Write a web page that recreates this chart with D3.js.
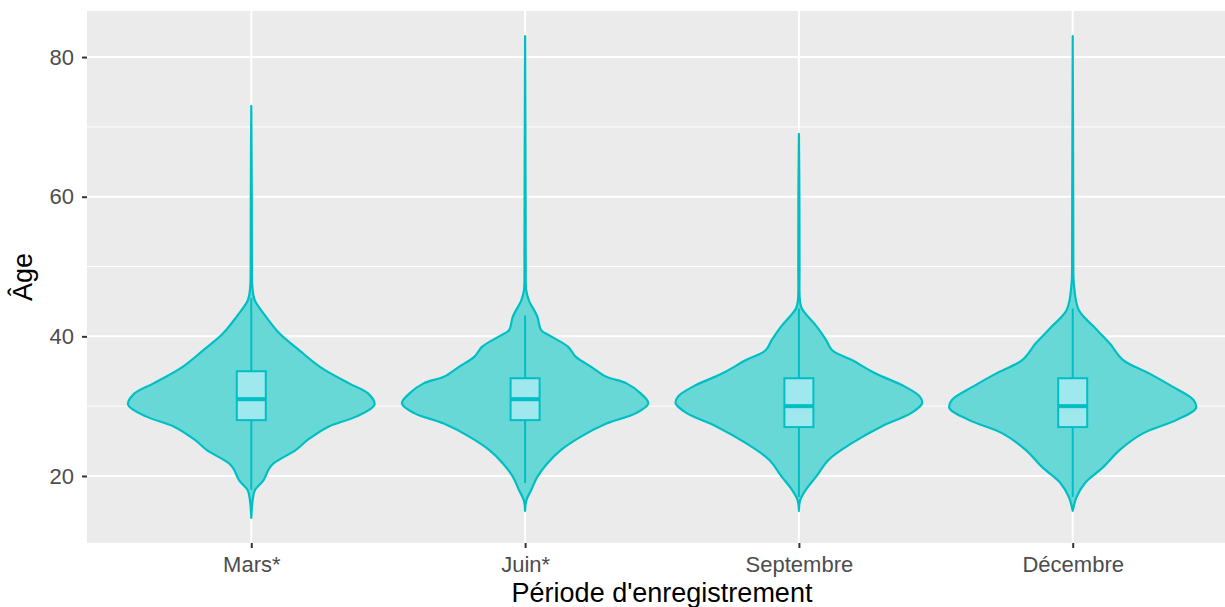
<!DOCTYPE html>
<html><head><meta charset="utf-8">
<script src="https://cdn.jsdelivr.net/npm/d3@7"></script>
<style>
html,body{margin:0;padding:0;background:#fff;}
svg{display:block;font-family:"Liberation Sans",Arial,Helvetica,sans-serif;}
</style></head>
<body>
<svg id="chart" width="1225" height="607"></svg>
<script>
// ---- data ----
const categories = ["Mars*", "Juin*", "Septembre", "Décembre"];
const yTicks = [20, 40, 60, 80];
const yMinorTicks = [30, 50, 70];
// violin profiles: [age, relative density (0-1)]
const violinMars = [[14,0],[15.5,0.005],[17,0.015],[18,0.03],[19.4,0.1],[20.9,0.14],[21.8,0.18],[23.7,0.36],[25.2,0.46],[27.1,0.63],[28.5,0.85],[30.2,1.0],[31.8,0.95],[33.3,0.79],[35.6,0.56],[38,0.39],[40.4,0.23],[42.8,0.12],[45.2,0.027],[47,0.009],[50,0.005],[60,0.004],[73,0]];
const violinJuin = [[15,0],[16.5,0.01],[18,0.05],[19.9,0.1],[21.8,0.18],[23.7,0.29],[25.6,0.45],[27.5,0.66],[29,0.9],[30.4,1.0],[31.8,0.94],[33.3,0.82],[34.2,0.66],[35.6,0.54],[37.1,0.41],[38.5,0.35],[40,0.21],[40.9,0.13],[42.8,0.1],[45.2,0.03],[46.6,0.009],[50,0.005],[60,0.004],[83,0]];
const violinSept = [[15,0],[16.5,0.01],[18,0.056],[19.9,0.14],[22.3,0.24],[24.7,0.43],[27.1,0.67],[29,0.91],[30.4,1.0],[31.4,0.98],[32.8,0.86],[34.7,0.62],[36.6,0.43],[38,0.27],[39.5,0.22],[41.4,0.145],[44,0.024],[45.2,0.008],[50,0.005],[60,0.004],[69,0]];
const violinDec = [[15,0],[17,0.032],[19,0.1],[21.3,0.25],[23.7,0.38],[26.1,0.57],[28,0.84],[29.7,1.0],[30.9,0.98],[32.8,0.81],[34.7,0.62],[36.6,0.41],[39,0.3],[41.4,0.17],[43.8,0.048],[47.6,0.009],[50,0.005],[60,0.004],[83,0]];
// box stats: [lower whisker, q1, median, q3, upper whisker]
const boxMars = [18, 28, 31, 35, 45.5];
const boxJuin = [19, 28, 31, 34, 43];
const boxSept = [17, 27, 30, 34, 44];
const boxDec = [17, 27, 30, 34, 44];

const violins = [violinMars, violinJuin, violinSept, violinDec];
const boxes = [boxMars, boxJuin, boxSept, boxDec];

// ---- layout ----
const panel = {left: 87, top: 11, right: 1237, bottom: 543};
const svg = d3.select("#chart");
const x = d3.scalePoint().domain(categories).range([panel.left, panel.right]).padding(0.6);
const y = d3.scaleLinear().domain([10.4, 86.6]).range([panel.bottom, panel.top]);
const step = x.step();
const halfMax = 0.45 * step;
const boxHalf = 0.053 * step;

const teal = "#00BFC4";

svg.append("rect").attr("x", panel.left).attr("y", panel.top)
  .attr("width", panel.right - panel.left).attr("height", panel.bottom - panel.top)
  .attr("fill", "#EBEBEB");

const grid = svg.append("g");
grid.selectAll(".ymin").data(yMinorTicks).join("line")
  .attr("x1", panel.left).attr("x2", panel.right)
  .attr("y1", d => y(d)).attr("y2", d => y(d))
  .attr("stroke", "#fff").attr("stroke-width", 1);
grid.selectAll(".ymaj").data(yTicks).join("line")
  .attr("x1", panel.left).attr("x2", panel.right)
  .attr("y1", d => y(d)).attr("y2", d => y(d))
  .attr("stroke", "#fff").attr("stroke-width", 2);
grid.selectAll(".xmaj").data(categories).join("line")
  .attr("y1", panel.top).attr("y2", panel.bottom)
  .attr("x1", d => x(d)).attr("x2", d => x(d))
  .attr("stroke", "#fff").attr("stroke-width", 2);

// violins
const g = svg.append("g");
categories.forEach((c, i) => {
  const cx = x(c);
  const area = d3.area()
    .y(d => y(d[0]))
    .x0(d => cx - d[1] * halfMax)
    .x1(d => cx + d[1] * halfMax)
    .curve(d3.curveCatmullRom);
  g.append("path").datum(violins[i]).attr("d", area)
    .attr("fill", "#68D8D6").attr("stroke", teal).attr("stroke-width", 2.2)
    .attr("stroke-linejoin", "round");
  const b = boxes[i];
  g.append("line").attr("x1", cx).attr("x2", cx).attr("y1", y(b[0])).attr("y2", y(b[4]))
    .attr("stroke", teal).attr("stroke-width", 2);
  g.append("rect").attr("x", cx - boxHalf).attr("width", 2 * boxHalf)
    .attr("y", y(b[3])).attr("height", y(b[1]) - y(b[3]))
    .attr("fill", "#9EE8EE").attr("stroke", teal).attr("stroke-width", 2);
  g.append("line").attr("x1", cx - boxHalf).attr("x2", cx + boxHalf)
    .attr("y1", y(b[2])).attr("y2", y(b[2]))
    .attr("stroke", teal).attr("stroke-width", 4);
});

// axes
const yAxis = svg.append("g").attr("transform", `translate(${panel.left},0)`)
  .call(d3.axisLeft(y).tickValues(yTicks).tickSize(5).tickPadding(8));
const xAxis = svg.append("g").attr("transform", `translate(0,${panel.bottom})`)
  .call(d3.axisBottom(x).tickSize(5).tickPadding(8));
[yAxis, xAxis].forEach(a => {
  a.select(".domain").remove();
  a.selectAll(".tick line").attr("stroke", "#333333").attr("stroke-width", 2);
  a.selectAll(".tick text").attr("fill", "#4D4D4D").style("font-size", "22px")
    .style("font-family", '"Liberation Sans",Arial,sans-serif');
});

svg.append("text").attr("x", (panel.left + panel.right) / 2).attr("y", 602)
  .attr("text-anchor", "middle").attr("fill", "#000").style("font-size", "27px")
  .text("Période d'enregistrement");
svg.append("text").attr("transform", `translate(32,${(panel.top + panel.bottom) / 2}) rotate(-90)`)
  .attr("text-anchor", "middle").attr("fill", "#000").style("font-size", "27px")
  .text("Âge");
</script>
</body></html>
